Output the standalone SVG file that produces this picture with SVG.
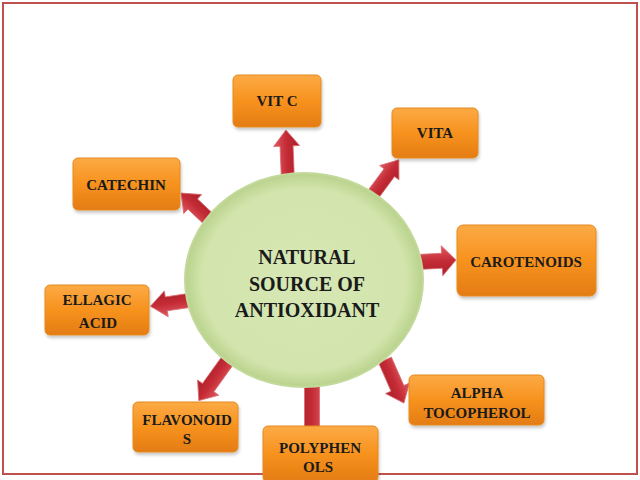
<svg xmlns="http://www.w3.org/2000/svg" width="640" height="480" viewBox="0 0 640 480">
<defs>
<linearGradient id="og" x1="0" y1="0" x2="0" y2="1">
<stop offset="0" stop-color="#fcaa45"/>
<stop offset="0.5" stop-color="#f7921e"/>
<stop offset="1" stop-color="#e47c12"/>
</linearGradient>
<radialGradient id="gg" cx="0.5" cy="0.5" r="0.5">
<stop offset="0" stop-color="#d6e7b4"/>
<stop offset="0.85" stop-color="#d3e5ad"/>
<stop offset="1" stop-color="#b9d28c"/>
</radialGradient>
<linearGradient id="rg" x1="0" y1="0" x2="0" y2="1">
<stop offset="0" stop-color="#e05a62"/>
<stop offset="0.5" stop-color="#c42b35"/>
<stop offset="1" stop-color="#a9202a"/>
</linearGradient>
<filter id="sh" x="-10%" y="-10%" width="130%" height="140%">
<feDropShadow dx="1" dy="2.5" stdDeviation="1.8" flood-color="#000" flood-opacity="0.22"/>
</filter>
</defs>
<style>
.box{fill:url(#og);stroke:#e48a20;stroke-width:1;filter:url(#sh)}
text{font-family:'Liberation Serif','DejaVu Serif',serif;font-weight:bold;font-size:15px;fill:#1a1a1a;text-anchor:middle}
.c{font-size:20px}
.arr{fill:url(#rg);stroke:#d96a70;stroke-width:0.8}
</style>
<rect x="3" y="3" width="634" height="471" fill="#fff" stroke="#c0504d" stroke-width="2"/>
<g id="connectors">
<path class="arr" transform="translate(288,182) rotate(-92.3)" d="M0,-6.5 L36,-6.5 L36,-13 L52,0 L36,13 L36,6.5 L0,6.5 Z"/>
<path class="arr" transform="translate(372,196) rotate(-53.4)" d="M0,-6.5 L29,-6.5 L29,-12 L45,0 L29,12 L29,6.5 L0,6.5 Z"/>
<path class="arr" transform="translate(216,226) rotate(-136.7)" d="M0,-7 L32,-7 L32,-13 L48,0 L32,13 L32,7 L0,7 Z"/>
<path class="arr" transform="translate(192,300) rotate(171.5)" d="M0,-7 L26,-7 L26,-13 L42,0 L26,13 L26,7 L0,7 Z"/>
<path class="arr" transform="translate(418,262) rotate(-3)" d="M0,-7.5 L24,-7.5 L24,-15 L38,0 L24,15 L24,7.5 L0,7.5 Z"/>
<path class="arr" transform="translate(385,360) rotate(66.3)" d="M0,-7 L31,-7 L31,-13 L47,0 L31,13 L31,7 L0,7 Z"/>
<path class="arr" transform="translate(228,360) rotate(125.7)" d="M0,-7 L34,-7 L34,-13 L50,0 L34,13 L34,7 L0,7 Z"/>
<path class="arr" transform="translate(312,384) rotate(90)" d="M0,-7.5 L46,-7.5 L46,-14 L60,0 L46,14 L46,7.5 L0,7.5 Z"/>
</g>
<g id="center">
<ellipse cx="304" cy="280" rx="119" ry="107" fill="url(#gg)" stroke="#c3d99c" stroke-width="2"/>
<text class="c" x="307" y="264">NATURAL</text>
<text class="c" x="307" y="291">SOURCE OF</text>
<text class="c" x="307" y="317">ANTIOXIDANT</text>
</g>
<g id="vitc">
<rect class="box" x="233" y="75" width="88" height="52" rx="5"/>
<text x="277" y="106">VIT C</text>
</g>
<g id="vita">
<rect class="box" x="392" y="108" width="86" height="50" rx="5"/>
<text x="435" y="138">VITA</text>
</g>
<g id="catechin">
<rect class="box" x="73" y="158" width="107" height="52" rx="5"/>
<text x="126" y="190">CATECHIN</text>
</g>
<g id="ellagic">
<rect class="box" x="45" y="285" width="104" height="50" rx="5"/>
<text x="97" y="305">ELLAGIC</text>
<text x="98" y="328">ACID</text>
</g>
<g id="carotenoids">
<rect class="box" x="457" y="225" width="139" height="71" rx="6"/>
<text x="526" y="267">CAROTENOIDS</text>
</g>
<g id="alpha">
<rect class="box" x="409" y="375" width="135" height="50" rx="5"/>
<text x="477" y="398">ALPHA</text>
<text x="477" y="418">TOCOPHEROL</text>
</g>
<g id="flavonoids">
<rect class="box" x="133" y="402" width="105" height="50" rx="5"/>
<text x="187" y="425">FLAVONOID</text>
<text x="187" y="444">S</text>
</g>
<g id="polyphenols">
<rect class="box" x="263" y="426" width="115" height="56" rx="5"/>
<text x="320" y="453">POLYPHEN</text>
<text x="318" y="472">OLS</text>
</g>
</svg>
